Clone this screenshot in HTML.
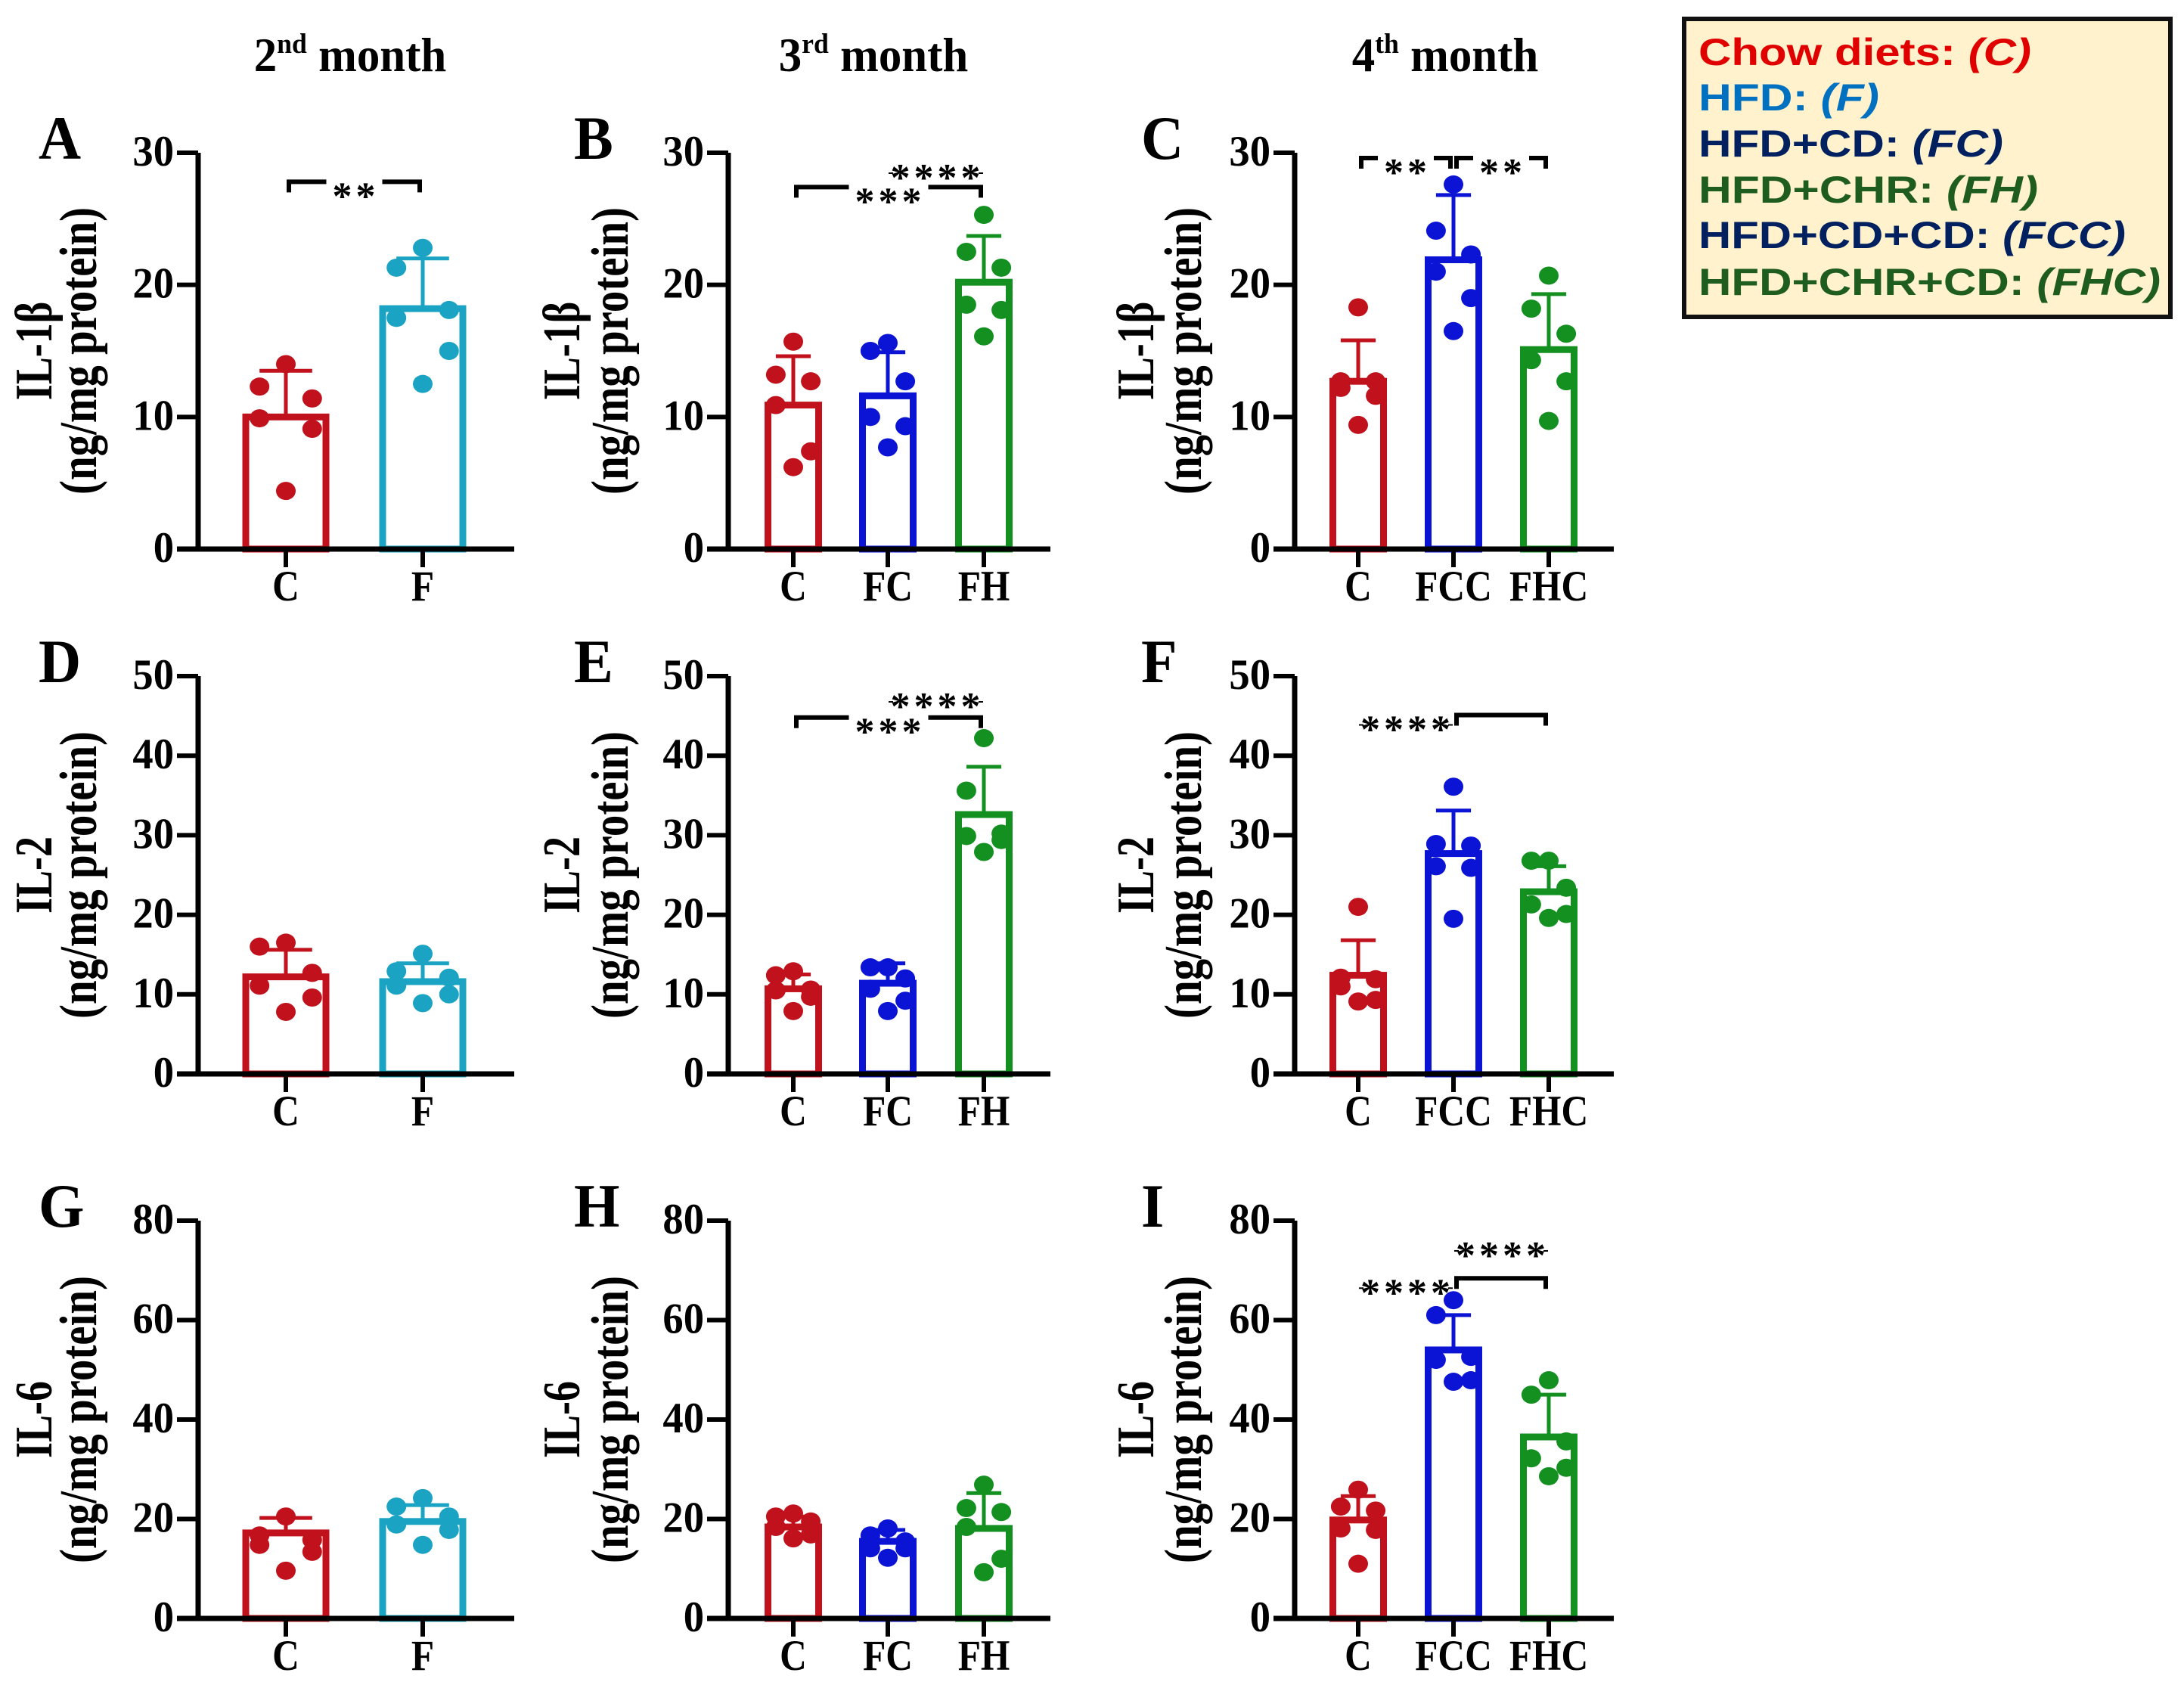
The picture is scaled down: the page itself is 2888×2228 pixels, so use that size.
<!DOCTYPE html>
<html><head><meta charset="utf-8"><style>
html,body{margin:0;padding:0;background:#fff;}
svg{display:block;}
</style></head><body>
<svg id="fig" width="2888" height="2228" viewBox="0 0 2888 2228" xmlns="http://www.w3.org/2000/svg">
<rect x="0" y="0" width="2888" height="2228" fill="#fff"/>
<g font-family="Liberation Serif, serif" font-weight="bold" font-size="58" text-anchor="middle">
<text transform="translate(463,94) scale(1.05,1.1)">2<tspan font-size="34" dy="-22">nd</tspan><tspan dy="22"> month</tspan></text>
<text transform="translate(1155,94) scale(1.05,1.1)">3<tspan font-size="34" dy="-22">rd</tspan><tspan dy="22"> month</tspan></text>
<text transform="translate(1911,94) scale(1.05,1.1)">4<tspan font-size="34" dy="-22">th</tspan><tspan dy="22"> month</tspan></text>
</g>
<g>
<rect x="2227" y="25" width="643" height="394" fill="#fff2cc" stroke="#111" stroke-width="6"/>
<g font-family="Liberation Sans, Arial, sans-serif" font-weight="bold" font-size="50">
<text x="2246" y="86" fill="#e00000" textLength="440" lengthAdjust="spacingAndGlyphs">Chow diets: <tspan font-style="italic">(C)</tspan></text>
<text x="2246" y="146" fill="#0070c0" textLength="239" lengthAdjust="spacingAndGlyphs">HFD: <tspan font-style="italic">(F)</tspan></text>
<text x="2246" y="207" fill="#002060" textLength="403" lengthAdjust="spacingAndGlyphs">HFD+CD: <tspan font-style="italic">(FC)</tspan></text>
<text x="2246" y="268" fill="#1f5c1f" textLength="449" lengthAdjust="spacingAndGlyphs">HFD+CHR: <tspan font-style="italic">(FH)</tspan></text>
<text x="2246" y="328" fill="#002060" textLength="565" lengthAdjust="spacingAndGlyphs">HFD+CD+CD: <tspan font-style="italic">(FCC)</tspan></text>
<text x="2246" y="390" fill="#1f5c1f" textLength="611" lengthAdjust="spacingAndGlyphs">HFD+CHR+CD: <tspan font-style="italic">(FHC)</tspan></text>
</g>
</g>
</svg>
<script>
// ---- data ----
const panelLetters = ['A','B','C','D','E','F','G','H','I'];
const yLabels = ['IL-1β','IL-1β','IL-1β','IL-2','IL-2','IL-2','IL-6','IL-6','IL-6'];
const categoriesA = ['C','F'];
const categoriesB = ['C','FC','FH'];
const categoriesC = ['C','FCC','FHC'];
const ticks1 = [0,10,20,30];
const ticks2 = [0,10,20,30,40,50];
const ticks3 = [0,20,40,60,80];
const meansA = [10.0,18.2];
const errA = [13.5,22.0];
const dotsA = [[14.0,12.3,11.4,9.9,9.1,4.4],[22.8,21.3,18.1,17.5,15.0,12.5]];
const meansB = [10.9,11.6,20.2];
const errB = [14.6,14.9,23.7];
const dotsB = [[15.7,13.2,12.7,10.9,7.4,6.2],[15.6,15.0,12.7,10.0,9.3,7.7],[25.3,22.5,21.3,18.5,18.1,16.1]];
const meansC = [12.7,21.9,15.1];
const errC = [15.8,26.8,19.3];
const dotsC = [[18.3,12.7,12.7,12.2,11.6,9.4],[27.6,24.1,22.3,21.0,19.0,16.5],[20.7,18.2,16.3,14.3,12.7,9.7]];
const meansD = [12.2,11.6];
const errD = [15.6,13.9];
const dotsD = [[16.5,16.0,12.7,11.1,9.6,7.8],[15.1,12.9,12.1,11.1,10.0,8.9]];
const meansE = [10.7,11.4,32.6];
const errE = [12.5,13.9,38.6];
const dotsE = [[12.9,12.4,10.6,10.5,9.7,7.9],[13.4,13.4,12.0,10.7,9.2,7.9],[42.2,35.6,30.2,29.9,29.4,27.9]];
const meansF = [12.4,27.7,22.9];
const errF = [16.8,33.1,26.1];
const dotsF = [[21.0,12.1,11.9,11.0,9.3,9.1],[36.1,28.9,28.7,26.1,25.9,19.5],[26.8,26.8,23.4,21.3,20.1,19.6]];
const meansG = [17.2,19.5];
const errG = [20.2,22.8];
const dotsG = [[20.5,16.7,15.8,14.8,13.4,9.6],[24.2,22.5,20.5,18.9,17.8,14.8]];
const meansH = [18.4,15.5,18.1];
const errH = [20.5,17.8,25.2];
const dotsH = [[21.1,20.5,19.5,18.4,16.9,16.1],[18.1,16.7,15.5,14.1,14.1,12.2],[26.9,22.2,21.4,18.4,12.0,9.3]];
const meansI = [19.8,54.0,36.5];
const errI = [24.6,61.0,45.0];
const dotsI = [[25.9,22.5,21.7,18.1,17.8,11.0],[64.0,61.0,52.6,52.0,47.9,47.6],[47.9,45.0,35.6,32.2,30.3,28.6]];
const sigA = [[0,1,27.8,'**']];
const sigB = [[0,2,27.4,'***'],[1,2,29.2,'****']];
const sigC = [[0,1,29.6,'**'],[1,2,29.6,'**']];
const sigE = [[0,2,44.8,'***'],[1,2,48.0,'****']];
const sigF = [[0,1,45.1,'****'],[1,2,45.1,'']];
const sigI = [[0,1,68.4,'****'],[1,2,68.4,''],[1,2,75.9,'****']];

// ---- layout (style, not data) ----
const NS='http://www.w3.org/2000/svg';
const svg=document.getElementById('fig');
const cols=[{ax:262,end:680,centers:[378,559],bw:116,lab1:68,lab2:127,letter:51},
            {ax:963,end:1389,centers:[1049,1174,1301],bw:77,lab1:766,lab2:830,letter:759},
            {ax:1712,end:2134,centers:[1796,1922,2048],bw:77,lab1:1525,lab2:1588,letter:1509}];
const rows=[{y0:726,ytop:202,max:30,ticks:ticks1},{y0:1420,ytop:894,max:50,ticks:ticks2},{y0:2140,ytop:1614,max:80,ticks:ticks3}];
const colorMap={C:'#c0111c',F:'#1aa3c2',FC:'#0b14d4',FH:'#139020',FCC:'#0b14d4',FHC:'#139020'};
const jitter=[0,-0.3,0.3,-0.3,0.3,0];
const panels=[
 [categoriesA,meansA,errA,dotsA,sigA],[categoriesB,meansB,errB,dotsB,sigB],[categoriesC,meansC,errC,dotsC,sigC],
 [categoriesA,meansD,errD,dotsD,[]],[categoriesB,meansE,errE,dotsE,sigE],[categoriesC,meansF,errF,dotsF,sigF],
 [categoriesA,meansG,errG,dotsG,[]],[categoriesB,meansH,errH,dotsH,[]],[categoriesC,meansI,errI,dotsI,sigI]];

function mk(tag,attrs,parent){const e=document.createElementNS(NS,tag);for(const k in attrs)e.setAttribute(k,attrs[k]);(parent||svg).appendChild(e);return e;}

panels.forEach((p,pi)=>{
  const col=cols[pi%3], row=rows[Math.floor(pi/3)];
  const [cats,means,errs,dots,sigs]=p;
  const yS=v=>row.y0-(v/row.max)*(row.y0-row.ytop);
  const g=mk('g',{});
  
  
  const L=mk('text',{transform:`translate(${col.letter},${row.ytop+8}) scale(1.05,1.1)`,'font-family':'Liberation Serif, serif','font-weight':'bold','font-size':'74'},g);
  L.textContent=panelLetters[pi];
  
  
  const yc=(row.y0+row.ytop)/2;
  const t1=mk('text',{transform:`translate(${col.lab1},${yc}) rotate(-90) scale(1,1.3)`,'font-family':'Liberation Serif, serif','font-weight':'bold','font-size':'54','text-anchor':'middle'},g);
  t1.textContent=yLabels[pi];
  
  
  const t2=mk('text',{transform:`translate(${col.lab2},${yc}) rotate(-90) scale(1,1.3)`,'font-family':'Liberation Serif, serif','font-weight':'bold','font-size':'54','text-anchor':'middle',textLength:'380',lengthAdjust:'spacingAndGlyphs'},g);
  t2.textContent='(ng/mg protein)';
  
  
  cats.forEach((c,i)=>{
    const cx=col.centers[i], col_=colorMap[c], top=yS(means[i]);
    const b=mk('rect',{x:cx-col.bw/2+5,y:top,width:col.bw-10,height:row.y0-top,fill:'#fff',stroke:col_,'stroke-width':'9'},g);
    
    
    const ey=yS(errs[i]);
    const e1=mk('line',{x1:cx,x2:cx,y1:top,y2:ey,stroke:col_,'stroke-width':'5'},g);
    
    
    const cw=col.bw*0.3;
    const e2=mk('line',{x1:cx-cw,x2:cx+cw,y1:ey,y2:ey,stroke:col_,'stroke-width':'5'},g);
    
    
    dots[i].forEach((v,j)=>{
      const d=mk('ellipse',{cx:cx+jitter[j]*col.bw,cy:yS(v),rx:13,ry:12,fill:col_},g);
      
      
    });
    const tk=mk('line',{x1:cx,x2:cx,y1:row.y0,y2:row.y0+24,stroke:'#000','stroke-width':'6'},g);
    
    
    const cl=mk('text',{transform:`translate(${cx},${row.y0+68}) scale(0.95,1.1)`,'font-family':'Liberation Serif, serif','font-weight':'bold','font-size':'52','text-anchor':'middle'},g);
    cl.textContent=c;
    
    
  });
  const ya=mk('line',{x1:col.ax,x2:col.ax,y1:row.y0+3,y2:row.ytop,stroke:'#000','stroke-width':'7'},g);
  
  
  const xa=mk('line',{x1:col.ax-28,x2:col.end,y1:row.y0,y2:row.y0,stroke:'#000','stroke-width':'7'},g);
  
  
  row.ticks.forEach(v=>{
    const y=yS(v);
    const tl=mk('line',{x1:col.ax-28,x2:col.ax,y1:y,y2:y,stroke:'#000','stroke-width':'6'},g);
    
    
    const tt=mk('text',{transform:`translate(${col.ax-32},${y+17}) scale(1.05,1.1)`,'font-family':'Liberation Serif, serif','font-weight':'bold','font-size':'52','text-anchor':'end'},g);
    tt.textContent=String(v);
    
    
  });
  sigs.forEach(s=>{
    const x1=col.centers[s[0]]+4, x2=col.centers[s[1]]-4, y=yS(s[2]);
    const pth=mk('path',{d:`M${x1},${y+14} V${y} H${x2} V${y+14}`,fill:'none',stroke:'#000','stroke-width':'6'},g);
    
    
    if(s[3]){
      const w=s[3].length*31+12, mx=(x1+x2)/2;
      const r=mk('rect',{x:mx-w/2,y:y-14,width:w,height:26,fill:'#fff'},g);
      
      
      const st=mk('text',{x:mx+2,y:y+36,'font-family':'Liberation Serif, serif','font-weight':'bold','font-size':'52','text-anchor':'middle','letter-spacing':'5'},g);
      st.textContent=s[3];
      
      
    }
  });
});
</script>
</body></html>
